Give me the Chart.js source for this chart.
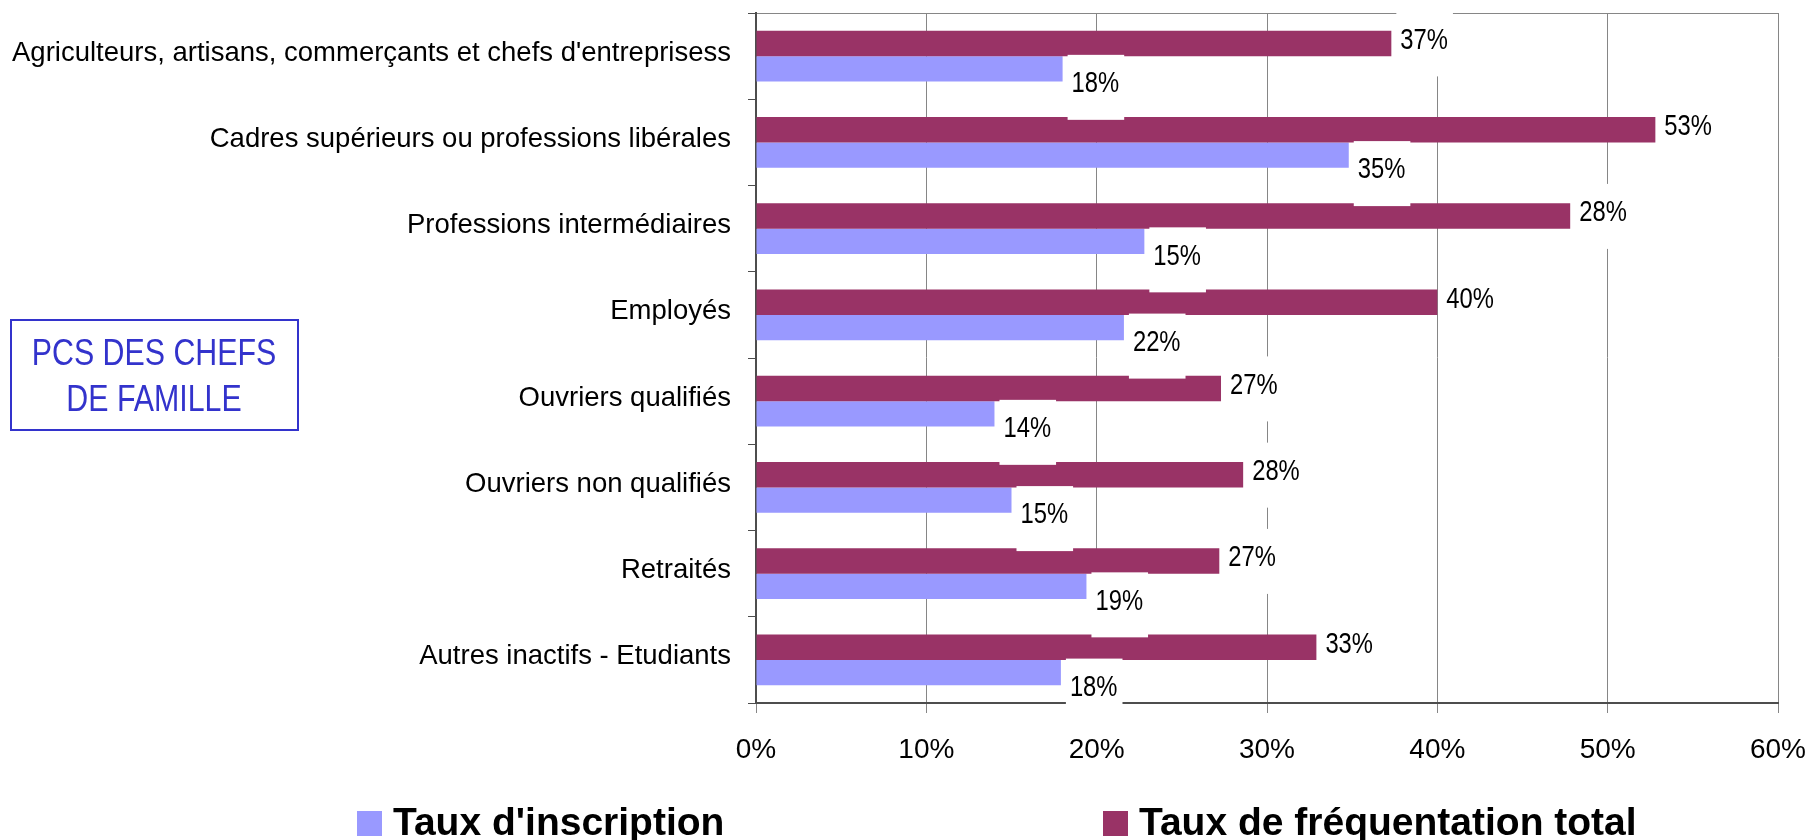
<!DOCTYPE html>
<html>
<head>
<meta charset="utf-8">
<script src="https://cdn.jsdelivr.net/npm/chart.js@4.4.1/dist/chart.umd.min.js"></script>
<style>
  html, body { margin: 0; padding: 0; background: #fff; }
</style>
</head>
<body>
<canvas id="pcsChart" width="1813" height="840"></canvas>
<script>
const categories = [
  "Agriculteurs, artisans, commerçants et chefs d'entreprisess",
  'Cadres supérieurs ou professions libérales',
  'Professions intermédiaires',
  'Employés',
  'Ouvriers qualifiés',
  'Ouvriers non qualifiés',
  'Retraités',
  'Autres inactifs - Etudiants'
];
// bar lengths as drawn (in %)
const tauxFrequentation = [37.3, 52.8, 47.8, 40.0, 27.3, 28.6, 27.2, 32.9];
const tauxInscription = [18.0, 34.8, 22.8, 21.6, 14.0, 15.0, 19.4, 17.9];
// printed labels
const frequentationLabels = ['37%', '53%', '28%', '40%', '27%', '28%', '27%', '33%'];
const inscriptionLabels = ['18%', '35%', '15%', '22%', '14%', '15%', '19%', '18%'];
const xMax = 60;
const xStep = 10;
const seriesNames = ["Taux d'inscription", 'Taux de fréquentation total'];
const boxTitle = ['PCS DES CHEFS', 'DE FAMILLE'];

const MAROON = '#993366';
const BLUE = '#9999FF';
const SANS = "'Liberation Sans', Arial, sans-serif";
const NARROW_SCALE = 0.82; // no narrow font installed, squeeze Liberation Sans instead

function narrowText(ctx, txt, x, y) {
  ctx.save();
  ctx.translate(x, y);
  ctx.scale(NARROW_SCALE, 1);
  ctx.fillText(txt, 0, 0);
  ctx.restore();
}

// value labels with white boxes, drawn over bars and grid
const valueLabels = {
  id: 'valueLabels',
  afterDatasetsDraw(chart) {
    const ctx = chart.ctx;
    const size = 29;
    ctx.save();
    ctx.font = size + 'px ' + SANS;
    ctx.textAlign = 'left';
    ctx.textBaseline = 'alphabetic';
    chart.data.datasets.forEach((ds, di) => {
      const meta = chart.getDatasetMeta(di);
      const dy = di === 0 ? -5 : 13;
      meta.data.forEach((bar, i) => {
        const txt = ds.valueLabels[i];
        const w = ctx.measureText(txt).width * NARROW_SCALE;
        const tx = bar.x + 9;
        const cy = bar.y + dy;
        ctx.fillStyle = '#fff';
        ctx.fillRect(tx - 4, cy - 27, w + 9, 65);
        ctx.fillStyle = '#000';
        narrowText(ctx, txt, tx, cy + size * 0.358);
      });
    });
    ctx.restore();
  }
};

// framed note on the left + bottom legend
const extras = {
  id: 'extras',
  afterDraw(chart) {
    const ctx = chart.ctx;
    ctx.save();
    ctx.strokeStyle = '#3333CC';
    ctx.lineWidth = 2;
    ctx.strokeRect(11, 320, 287, 110);
    ctx.fillStyle = '#3333CC';
    ctx.font = '37px ' + SANS;
    ctx.textAlign = 'center';
    narrowText(ctx, boxTitle[0], 154, 365);
    narrowText(ctx, boxTitle[1], 154, 411);

    ctx.textAlign = 'left';
    ctx.font = 'bold 39px ' + SANS;
    const items = [
      { x: 357, color: BLUE, text: seriesNames[0] },
      { x: 1103, color: MAROON, text: seriesNames[1] }
    ];
    items.forEach(it => {
      ctx.fillStyle = it.color;
      ctx.fillRect(it.x, 811, 25, 25);
      ctx.fillStyle = '#000';
      ctx.fillText(it.text, it.x + 36, 835);
    });
    ctx.restore();
  }
};

const ctx = document.getElementById('pcsChart').getContext('2d');
new Chart(ctx, {
  type: 'bar',
  data: {
    labels: categories,
    datasets: [
      {
        label: seriesNames[1],
        data: tauxFrequentation,
        valueLabels: frequentationLabels,
        backgroundColor: MAROON,
        categoryPercentage: 0.59,
        barPercentage: 1.0
      },
      {
        label: seriesNames[0],
        data: tauxInscription,
        valueLabels: inscriptionLabels,
        backgroundColor: BLUE,
        categoryPercentage: 0.59,
        barPercentage: 1.0
      }
    ]
  },
  options: {
    indexAxis: 'y',
    responsive: false,
    animation: false,
    devicePixelRatio: 1,
    layout: { padding: { top: 13, right: 35, left: 0, bottom: 0 } },
    plugins: {
      legend: { display: false },
      tooltip: { enabled: false }
    },
    scales: {
      x: {
        min: 0,
        max: xMax,
        ticks: {
          stepSize: xStep,
          callback: v => v + '%',
          color: '#000',
          font: { family: SANS, size: 28 },
          padding: 20,
          maxRotation: 0
        },
        grid: { color: '#868686', lineWidth: 1, tickLength: 10, tickColor: '#868686' },
        border: { color: '#4d4d4d', width: 2 },
        afterFit: s => {
          s.height = 137;
          s.paddingLeft = 0;
          s.paddingRight = 0;
        }
      },
      y: {
        ticks: {
          color: '#000',
          font: { family: SANS, size: 27.5 },
          padding: 17,
          labelOffset: -3
        },
        grid: {
          color: c => c.index === 0 ? '#868686' : 'rgba(0,0,0,0)',
          tickColor: '#4d4d4d',
          tickLength: 8
        },
        border: { color: '#4d4d4d', width: 2 },
        afterFit: s => {
          s.width = 756;
          s.paddingTop = 0;
          s.paddingBottom = 0;
        }
      }
    }
  },
  plugins: [valueLabels, extras]
});
</script>
</body>
</html>
